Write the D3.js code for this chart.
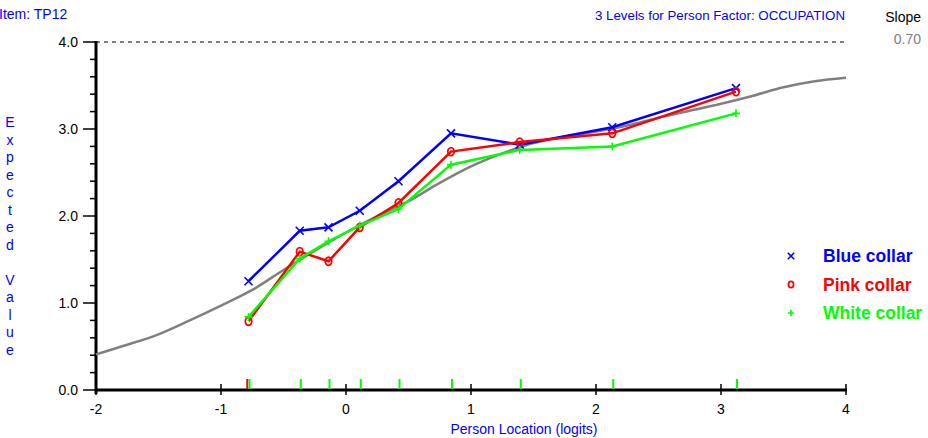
<!DOCTYPE html>
<html>
<head>
<meta charset="utf-8">
<script src="https://cdn.jsdelivr.net/npm/d3@7"></script>
<style>
  html, body { margin: 0; padding: 0; background: #fff; }
  svg { display: block; font-family: "Liberation Sans", Arial, sans-serif; }
</style>
</head>
<body>
<svg id="chart" width="928" height="438"></svg>
<script>
// ---- data ----
const locations = [-0.78, -0.37, -0.14, 0.11, 0.42, 0.84, 1.39, 2.13, 3.12];
const blueCollar = [1.25, 1.83, 1.87, 2.06, 2.40, 2.95, 2.82, 3.02, 3.47];
const pinkCollar = [0.79, 1.59, 1.48, 1.87, 2.15, 2.74, 2.85, 2.95, 3.43];
const whiteCollar = [0.84, 1.51, 1.71, 1.89, 2.08, 2.59, 2.76, 2.80, 3.18];
const redRug = [-0.79];
const curveX = [-2.0, -1.75, -1.5, -1.25, -1.0, -0.75, -0.5, -0.25, 0.0, 0.25, 0.5, 0.75, 1.0, 1.25, 1.5, 1.75, 2.0, 2.25, 2.5, 2.75, 3.0, 3.25, 3.5, 3.75, 4.0];
const curveY = [0.41, 0.52, 0.64, 0.80, 0.97, 1.15, 1.38, 1.60, 1.81, 2.00, 2.17, 2.38, 2.57, 2.72, 2.84, 2.91, 2.97, 3.04, 3.13, 3.21, 3.29, 3.38, 3.48, 3.55, 3.59];
const xTicks = [-2, -1, 0, 1, 2, 3, 4];
const yTicks = [0, 1, 2, 3, 4];
const yMinorTicks = [0.2,0.4,0.6,0.8,1.2,1.4,1.6,1.8,2.2,2.4,2.6,2.8,3.2,3.4,3.6,3.8];
const seriesNames = ["Blue collar", "Pink collar", "White collar"];
const seriesColors = ["#0000ff", "#ff0000", "#00ff00"];
const yLabelChars = ["E","x","p","e","c","t","e","d"," ","V","a","l","u","e"];

const svg = d3.select("#chart");
const x = d3.scaleLinear().domain([-2, 4]).range([96, 846]);
const y = d3.scaleLinear().domain([0, 4]).range([390, 42]);

// titles
svg.append("text").attr("x", -1).attr("y", 19).attr("fill", "#0000ff")
  .style("font-size", "14px").text("Item: TP12");
svg.append("text").attr("x", 845).attr("y", 20).attr("text-anchor", "end").attr("fill", "#0000ff")
  .style("font-size", "13.3px").text("3 Levels for Person Factor: OCCUPATION");
svg.append("text").attr("x", 921).attr("y", 22).attr("text-anchor", "end").attr("fill", "#000")
  .style("font-size", "14px").text("Slope");
svg.append("text").attr("x", 921).attr("y", 44).attr("text-anchor", "end").attr("fill", "#808080")
  .style("font-size", "14px").text("0.70");

// y label stacked
svg.append("g").selectAll("text").data(yLabelChars).join("text")
  .attr("x", 10).attr("y", (d, i) => 127 + i * 17.5)
  .attr("text-anchor", "middle").attr("fill", "#0000ff")
  .style("font-size", "14px").text(d => d);

// x label
svg.append("text").attr("x", 524).attr("y", 434).attr("text-anchor", "middle")
  .attr("fill", "#0000ff").style("font-size", "14px").text("Person Location (logits)");

// dashed top line
svg.append("line").attr("x1", x(-2)).attr("x2", x(4)).attr("y1", y(4)).attr("y2", y(4))
  .attr("stroke", "#000").attr("stroke-width", 1.2).attr("stroke-dasharray", "4,4");

// y axis
const yAxis = svg.append("g");
yAxis.append("line").attr("x1", 96).attr("x2", 96).attr("y1", y(4) - 1).attr("y2", 394)
  .attr("stroke", "#000").attr("stroke-width", 3);
yAxis.selectAll(".ymaj").data(yTicks).join("line")
  .attr("x1", 83).attr("x2", 97).attr("y1", d => y(d)).attr("y2", d => y(d))
  .attr("stroke", "#000").attr("stroke-width", 1.5);
yAxis.selectAll(".ymin").data(yMinorTicks).join("line")
  .attr("x1", 90).attr("x2", 97).attr("y1", d => y(d)).attr("y2", d => y(d))
  .attr("stroke", "#000").attr("stroke-width", 1.5);
yAxis.selectAll("text").data(yTicks).join("text")
  .attr("x", 78).attr("y", d => y(d) + 5).attr("text-anchor", "end")
  .attr("fill", "#000").style("font-size", "14px").text(d => d.toFixed(1));

// x axis
const xAxis = svg.append("g");
xAxis.append("line").attr("x1", 95).attr("x2", x(4) + 1).attr("y1", 390).attr("y2", 390)
  .attr("stroke", "#000").attr("stroke-width", 3);
xAxis.selectAll("line.t").data(xTicks).join("line").attr("class", "t")
  .attr("x1", d => x(d)).attr("x2", d => x(d)).attr("y1", 384).attr("y2", 395)
  .attr("stroke", "#000").attr("stroke-width", 1.5);
xAxis.selectAll("text").data(xTicks).join("text")
  .attr("x", d => x(d)).attr("y", 414).attr("text-anchor", "middle")
  .attr("fill", "#000").style("font-size", "14px").text(d => d);

// rug
svg.append("g").selectAll("line").data(redRug).join("line")
  .attr("x1", d => x(d)).attr("x2", d => x(d)).attr("y1", 379).attr("y2", 389)
  .attr("stroke", "#ff0000").attr("stroke-width", 2);
svg.append("g").selectAll("line").data(locations).join("line")
  .attr("x1", d => x(d) + 1).attr("x2", d => x(d) + 1).attr("y1", 379).attr("y2", 389)
  .attr("stroke", "#00ff00").attr("stroke-width", 2);

// model curve
const curveData = curveX.map((d, i) => [d, curveY[i]]);
svg.append("path").datum(curveData)
  .attr("d", d3.line().x(d => x(d[0])).y(d => y(d[1])).curve(d3.curveMonotoneX))
  .attr("fill", "none").attr("stroke", "#808080").attr("stroke-width", 2.5);

// series
const seriesVals = [blueCollar, pinkCollar, whiteCollar];
const lineGen = d3.line().x(d => x(d[0])).y(d => y(d[1]));

function marker(g, kind, cx, cy, color, s) {
  s = s || 4;
  if (kind === 0) {
    g.append("path").attr("d", `M${cx-s},${cy-s}L${cx+s},${cy+s}M${cx-s},${cy+s}L${cx+s},${cy-s}`)
      .attr("stroke", color).attr("stroke-width", 1.6).attr("fill", "none");
  } else if (kind === 1) {
    g.append("ellipse").attr("cx", cx).attr("cy", cy).attr("rx", s * 0.8).attr("ry", s)
      .attr("stroke", color).attr("stroke-width", 1.8).attr("fill", "none");
  } else {
    g.append("path").attr("d", `M${cx-s},${cy}L${cx+s},${cy}M${cx},${cy-s}L${cx},${cy+s}`)
      .attr("stroke", color).attr("stroke-width", 1.6).attr("fill", "none");
  }
}

seriesVals.forEach((vals, si) => {
  const data = locations.map((d, i) => [d, vals[i]]);
  const g = svg.append("g");
  g.append("path").datum(data).attr("d", lineGen)
    .attr("fill", "none").attr("stroke", seriesColors[si]).attr("stroke-width", 2.5);
  data.forEach(d => marker(g, si, x(d[0]), y(d[1]), seriesColors[si]));
});

// legend
const legend = svg.append("g");
seriesNames.forEach((name, i) => {
  const ly = 256 + i * 28.5;
  marker(legend, i, 791, ly, seriesColors[i], 3.2);
  legend.append("text").attr("x", 823).attr("y", ly + 6).attr("fill", seriesColors[i])
    .style("font-size", "17.5px").style("font-weight", "bold").text(name);
});
</script>
</body>
</html>
